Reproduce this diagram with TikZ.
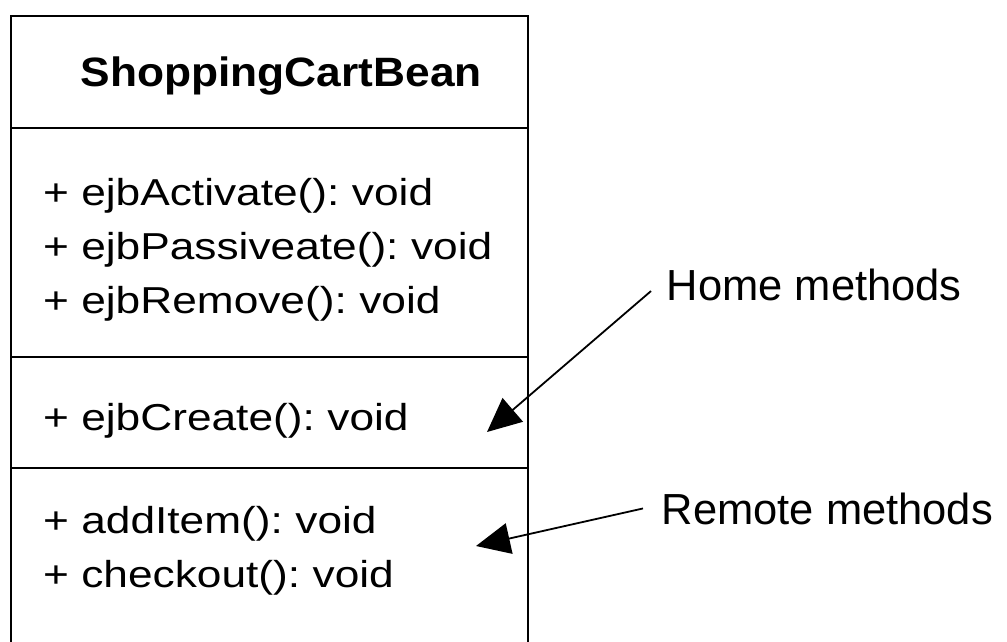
\documentclass[tikz,border=0pt]{standalone}
\usepackage{fontspec}
\setmainfont{Liberation Sans}
\newfontfamily\methfont[FakeStretch=1.18]{Liberation Sans}
\newfontfamily\namefont[FakeStretch=1.08]{Liberation Sans}
\usetikzlibrary{positioning, arrows.meta}
\frenchspacing
\tikzset{
  part/.style={rectangle, draw, line width=2pt, outer sep=0pt, align=left,
               minimum width=517.5pt, inner xsep=32.5pt, text width=452.5pt,
               font=\methfont\fontsize{37.5}{54}\selectfont},
  namepart/.style={part, align=center, inner xsep=0pt, text width=517.5pt,
                   font=\namefont\bfseries\fontsize{41}{48}\selectfont},
  note/.style={inner sep=0pt, anchor=base west, font=\fontsize{43.5}{50}\selectfont},
  arr/.style={-{Triangle[length=34pt, width=31pt]}, line width=1.8pt},
}
\begin{document}
\begin{tikzpicture}[x=1pt, y=-1pt]
  \useasboundingbox (0,0) rectangle (1007,641);
  % class box: compartments stacked top to bottom
  \node[namepart, minimum height=112pt, text height=28pt, text depth=0pt, anchor=north west] (name) at (10.5,16) {\hspace*{24pt}ShoppingCartBean};
  \node[part, minimum height=229pt, text height=33.4pt, text depth=108pt, below=0pt of name] (life) {+ ejbActivate(): void\\+ ejbPassiveate(): void\\+ ejbRemove(): void};
  \node[part, minimum height=111pt, text height=35pt, text depth=0pt, below=0pt of life] (homeops) {+ ejbCreate(): void};
  \node[part, inner ysep=37.6pt, text height=27.4pt, text depth=94pt, below=0pt of homeops] (remoteops) {+ addItem(): void\\+ checkout(): void};
  % notes pointing into the box
  \node[note] (homenote) at (666.5,300) {Home methods};
  \node[note] (remotenote) at (661.5,524) {Remote methods};
  \coordinate (hometip) at (487,432);
  \coordinate (remotetip) at (476,546);
  \draw[arr] ([xshift=-15.5pt, yshift=-6.6pt]homenote.west) -- (hometip);
  \draw[arr] ([xshift=-18.5pt]remotenote.west) -- (remotetip);
\end{tikzpicture}
\end{document}
